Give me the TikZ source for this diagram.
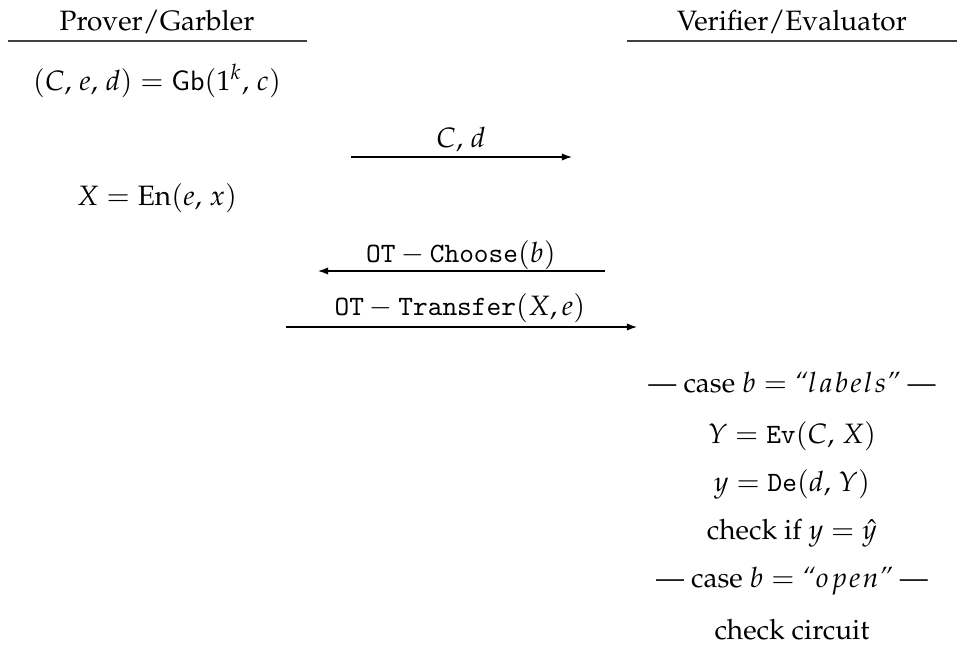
\documentclass[tikz,border=0pt]{standalone}
\usepackage[T1]{fontenc}
\usepackage{mathpazo}
\usetikzlibrary{arrows.meta}
% algorithm names in Latin Modern Mono / Sans
\newcommand\alg[1]{\mbox{\fontencoding{TU}\fontfamily{lmtt}\selectfont #1}}
\newcommand\algsf[1]{\mbox{\fontencoding{TU}\fontfamily{lmss}\selectfont #1}}
\newcommand\lsp{\mkern1.2mu}
\begin{document}
\begin{tikzpicture}[x=0.357pt,y=-0.357pt,
  txt/.style={anchor=base,inner sep=0pt,outer sep=0pt},
  rule/.style={line width=0.45pt,draw=black!75},
  msg/.style={line width=0.45pt,-{Latex[length=3.6pt,width=2.6pt]}}]
\useasboundingbox (0,0) rectangle (957,662);

% party headers
\node[txt] (prov) at (157,30) {Prover/Garbler};
\node[txt] (verif) at (792,30) {Verifier/Evaluator};
\coordinate (pl) at (8,41);  \coordinate (pr) at (307,41);
\coordinate (vl) at (627,41); \coordinate (vr) at (957,41);
\draw[rule] (pl) -- (pr);
\draw[rule] (vl) -- (vr);

% prover side
\node[txt] (gb) at (157,90) {$(C,\mkern2mu e,\mkern2mu d) = \algsf{Gb}(1^k,\mkern2mu c)$};
\node[txt] (en) at (157,205) {$X = \mathrm{En}(e,\mkern2mu x)$};

% messages
\node[txt] (m1) at (461,147) {$C,\mkern2mu d$};
\coordinate (m1a) at (351,157); \coordinate (m1b) at (572,157);
\draw[msg] (m1a) -- (m1b);

\node[txt] (m2) at (461,262) {$\alg{OT} - \alg{Choose}(b)$};
\coordinate (m2a) at (605,271); \coordinate (m2b) at (318,271);
\draw[msg] (m2a) -- (m2b);

\node[txt] (m3) at (460,315) {$\alg{OT} - \alg{Transfer}(X,e)$};
\coordinate (m3a) at (286,327); \coordinate (m3b) at (637,327);
\draw[msg] (m3a) -- (m3b);

% verifier side
\node[txt] (c1) at (792,392) {--- case $b = $ \textit{``}$l\lsp a\lsp b\lsp e\lsp l\lsp s$\textit{''} ---};
\node[txt] (ev) at (792,443) {$Y = \alg{Ev}(C,\mkern2mu X)$};
\node[txt] (de) at (792,491) {$y = \alg{De}(d,\mkern2mu Y)$};
\node[txt] (ck) at (792,539) {check if $y = \hat{y}$};
\node[txt] (c2) at (792,587) {--- case $b = $ \textit{``}$o\lsp p\lsp e\lsp n$\textit{''} ---};
\node[txt] (cc) at (792,639) {check circuit};
\end{tikzpicture}
\end{document}
